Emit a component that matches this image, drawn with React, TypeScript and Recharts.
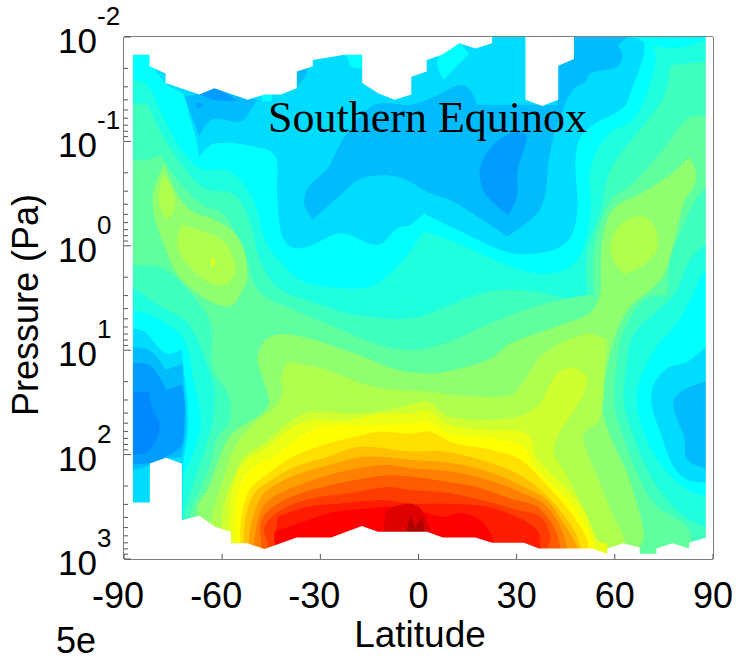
import { ScatterChart, Scatter, XAxis, YAxis } from "recharts";

type Pt = [number, number]; // [latitude in degrees, log10 of pressure in Pa]

const latTicks = [-90, -60, -30, 0, 30, 60, 90];
const decades = [-2, -1, 0, 1, 2, 3];
const minorFactors = [0.301, 0.477, 0.602, 0.699, 0.778, 0.845, 0.903, 0.954];
const pressureTicks = decades.concat(
  decades.slice(0, -1).flatMap((d) => minorFactors.map((m) => d + m))
);

// outline of the region that has data, everything outside it is blank
const outline: Pt[] = [
  [-87.3, -1.83], [-82.2, -1.83], [-82.2, -1.72], [-77.3, -1.65], [-77.3, -1.56], [-67, -1.45], [-62.4, -1.51],
  [-52.2, -1.4], [-47, -1.45], [-42, -1.45], [-37.2, -1.51], [-37.2, -1.67], [-32.3, -1.72], [-32.3, -1.78],
  [-22.6, -1.83], [-17.2, -1.83], [-17.2, -1.56], [-12.2, -1.46], [-7.3, -1.4], [-2.2, -1.45], [-2.2, -1.62],
  [2.5, -1.67], [2.5, -1.78], [7.2, -1.83], [12.5, -1.94], [17.4, -1.89], [22.5, -1.94], [22.5, -2], [32.7, -2],
  [32.7, -1.4], [37.8, -1.34], [42.7, -1.4], [42.7, -1.725], [47.5, -1.79], [47.5, -2], [87.8, -2], [87.8, 2.794],
  [82.7, 2.845], [82.7, 2.9], [77.6, 2.85], [72.7, 2.9], [72.7, 2.95], [67.6, 2.95], [67.6, 2.89], [62.6, 2.85],
  [57.7, 2.9], [57.7, 2.95], [53.1, 2.9], [36.8, 2.9], [32.2, 2.845], [22.5, 2.845], [17.4, 2.794], [7.4, 2.794],
  [2.6, 2.74], [-12.4, 2.74], [-17.3, 2.685], [-26.7, 2.794], [-37.2, 2.794], [-47.1, 2.905], [-52.2, 2.85],
  [-57.3, 2.85], [-57.3, 2.74], [-62.2, 2.69], [-67, 2.585], [-72.3, 2.63], [-72.3, 2.085], [-77.2, 2.03],
  [-82.1, 2.085], [-82.1, 2.46], [-87.3, 2.46], [-87.3, -1.83],
];
const blankMask: Pt[] = [...outline, [-90, -2], [-90, 3], [90, 3], [90, -2], [-90, -2]];

const fullField: Pt[] = [[-90, -2], [90, -2], [90, 3], [-90, 3]];

// levels below the cyan one
const skyTop: Pt[] = [
  [-82.2, -2], [-82.2, -1.76], [-80.8, -1.7], [-76.7, -1.54], [-71.6, -1.44], [-70.1, -1.25], [-68, -1.03], [-67, -0.85],
  [-62.4, -0.98], [-47.1, -0.93], [-43.5, -0.84], [-43.2, -0.52], [-42, -0.13], [-39, 0.01], [-33.9, 0.01], [-23.7, -0.12],
  [-12.4, -0.01], [-6.3, -0.17], [-2.5, -0.2], [1.6, -0.31], [10.8, -0.17], [27.1, 0.06], [37.3, 0.07], [45.5, -0.04],
  [48.5, -0.33], [48, -0.84], [50.6, -1.09], [62.8, -1.33], [64.9, -1.48], [68.9, -1.83], [68.9, -1.955], [64.9, -2],
];
const skyLeft: Pt[] = [
  [-90, 0.79], [-83.9, 0.82], [-77.2, 1.03], [-72.3, 0.99], [-71.6, 1.22], [-70.5, 1.5], [-70.5, 1.8], [-72, 2.1], [-72, 2.5], [-90, 2.5],
];
const skyRight: Pt[] = [
  [87.8, 0.98], [82.2, 1.11], [76.1, 1.17], [72, 1.32], [71.2, 1.51], [74, 1.8], [78, 2.12], [82.2, 2.24], [87.8, 2.27], [90, 2.27], [90, 0.98],
];
const cyanPatchA: Pt[] = [[5.7, -1.75], [7.7, -1.59], [15.4, -1.84], [12.8, -1.94], [7.7, -1.89]];
const cyanPatchB: Pt[] = [[-22.7, -1.83], [-17.2, -1.83], [-17.2, -1.7], [-20.6, -1.72], [-21.6, -1.8]];
const cyanPatchC: Pt[] = [[-48, -1.445], [-44.6, -1.445], [-45.1, -1.38], [-47.7, -1.39]];

const azureMain: Pt[] = [
  [-32.3, -0.25], [-34.9, -0.39], [-33.9, -0.55], [-27.8, -0.74], [-24.7, -0.93], [-21.6, -1.09], [-13.5, -1.35], [-2.5, -1.35],
  [3.6, -1.41], [12.8, -1.54], [15.9, -1.49], [17.9, -1.35], [32.7, -1.35], [42.4, -1.35], [45.5, -1.41], [41.4, -1.06], [39.9, -0.84],
  [37.3, -0.36], [27.1, -0.09], [10.8, -0.42], [3.9, -0.5], [-6.3, -0.66], [-17.6, -0.645], [-23.7, -0.49],
];
const azureCorner: Pt[] = [
  [46, -2], [63.8, -2], [60.8, -1.92], [62.3, -1.83], [60.8, -1.72], [52.6, -1.65], [51, -1.57], [47.5, -1.51], [45.5, -1.41],
  [42.4, -1.35], [42.4, -1.75], [46, -1.8],
];
const azureTopLeft: Pt[] = [
  [-71.6, -1.43], [-67, -1.05], [-63, -1.21], [-54.3, -1.19], [-51.2, -1.3], [-49.2, -1.4], [-52.2, -1.41], [-62.4, -1.53], [-67, -1.46],
];
const azureSmall: Pt[] = [[-37.2, -1.68], [-33.9, -1.71], [-34.4, -1.635], [-37.2, -1.52]];
const azureLeft: Pt[] = [
  [-90, 0.966], [-82.3, 1], [-77.2, 1.19], [-72.1, 1.13], [-71.6, 1.38], [-71, 1.7], [-72.3, 2.02], [-77, 2.04], [-82, 2.1], [-87.3, 2.15], [-90, 2.15],
];
const azureRight: Pt[] = [
  [87.8, 1.3], [81.2, 1.38], [77.9, 1.49], [79.1, 1.67], [81.2, 1.83], [82.2, 2.05], [87.8, 2.13], [90, 2.13], [90, 1.3],
];
const blueTopLeft: Pt[] = [[-67, -1.455], [-62.4, -1.51], [-55.3, -1.39], [-62, -1.395]];
const blueDot: Pt[] = [[-68, -1.37], [-66, -1.36], [-66.5, -1.33], [-67.7, -1.32]];
const blueMain: Pt[] = [
  [33.2, -1.06], [32.7, -0.97], [30.2, -0.71], [30.2, -0.49], [27.6, -0.295], [20.5, -0.49], [18.7, -0.71], [21.5, -0.92], [26, -1.045], [30.2, -1.09],
];
const blueLeft: Pt[] = [
  [-90, 1.14], [-82.3, 1.14], [-77.2, 1.38], [-72.3, 1.33], [-71.4, 1.51], [-71.6, 1.7], [-72.6, 1.92], [-77.2, 2.02], [-82, 2.08], [-90, 2.085],
];
const deepLeft: Pt[] = [[-90, 1.4], [-82.3, 1.4], [-81, 1.6], [-79, 1.7], [-82.3, 1.96], [-90, 2]];

// levels above the cyan one
const turq1: Pt[] = [
  [-90, -1.59], [-87.3, -1.59], [-82.8, -1.54], [-77.8, -1.22], [-72.6, -0.93], [-66.5, -0.74], [-57.4, -0.71], [-50.2, -0.42],
  [-47.1, -0.07], [-43.1, 0.12], [-34.9, 0.345], [-19.6, 0.41], [-12.4, 0.36], [-4.3, 0.12], [1.6, -0.14], [10.8, -0.04], [27.1, 0.185],
  [37.3, 0.265], [46.5, 0.2], [50.6, -0.01], [52.6, -0.33], [52.6, -0.74], [57.7, -1.06], [64.9, -1.19], [68.4, -1.35], [71, -1.57],
  [72.5, -1.8], [71.5, -1.92], [75, -1.9], [82, -1.91], [90, -2], [90, 0.23], [87.8, 0.23], [84, 0.45], [79.1, 0.74], [72, 1], [66.9, 1.38],
  [67.9, 1.7], [73, 2.05], [81, 2.31], [87.8, 2.4], [90, 2.4], [90, 3], [-72, 3], [-72, 2.6], [-71.6, 2.21], [-69, 2], [-66.5, 1.7],
  [-69, 1.25], [-71.6, 0.9], [-77, 0.75], [-82.8, 0.65], [-90, 0.62],
];
const turq2: Pt[] = [
  [-90, -1.35], [-82.8, -1.36], [-77.8, -1.03], [-72.1, -0.77], [-65.5, -0.55], [-56.3, -0.49], [-51.2, -0.2], [-48.7, 0.12], [-43, 0.4],
  [-29.8, 0.567], [-19.6, 0.66], [-2.2, 0.695], [9.7, 0.567], [17.9, 0.47], [26, 0.42], [36, 0.44], [46, 0.5], [51.6, 0.47], [51.6, 0.06],
  [55.6, -0.33], [57.7, -0.645], [60.8, -0.84], [68.9, -1.16], [75, -1.43], [77, -1.73], [87.8, -1.76], [90, -1.76], [90, -0.135],
  [83.2, 0.12], [78, 0.47], [65.9, 0.84], [63.3, 1.22], [62.8, 1.51], [65.4, 1.8], [71, 2.21], [77, 2.47], [83, 2.63], [90, 2.72], [90, 3],
  [-72, 3], [-72, 2.63], [-71, 2.5], [-68, 2.21], [-65.5, 1.96], [-63, 1.7], [-62.4, 1.38], [-65.5, 1.06], [-70.6, 0.74], [-78.8, 0.58],
  [-87.3, 0.41], [-90, 0.41],
];
const mint: Pt[] = [
  [-90, -0.85], [-83.9, -0.82], [-78.8, -0.87], [-73.2, -0.61], [-66, -0.39], [-59.4, -0.295], [-52.8, 0.12], [-48.7, 0.44], [-38, 0.615],
  [-25.7, 0.775], [-13.5, 0.935], [-2.2, 1], [9.7, 0.918], [22, 0.743], [35.3, 0.583], [48.5, 0.487], [53.8, 0.47], [53.4, 0.12], [55.7, -0.23],
  [59.3, -0.45], [64.9, -0.58], [75, -0.93], [82.2, -1.22], [87.8, -1.24], [90, -1.24], [90, -0.68], [84.2, -0.42], [80.1, -0.135], [77, 0.12],
  [76, 0.47], [69, 0.52], [62.8, 0.81], [60.8, 1.06], [59.8, 1.51], [62.3, 1.8], [66.9, 2.18], [72, 2.47], [82.7, 2.72], [82.7, 3], [-69.5, 3],
  [-69.5, 2.55], [-67.5, 2.4], [-63.5, 2.08], [-61.4, 1.83], [-57.9, 1.7], [-57.9, 1.445], [-63, 1.16], [-63.5, 0.74], [-69.6, 0.455],
  [-77.8, 0.22], [-87.3, 0.185], [-90, 0.185],
];
const greenBlobLeft: Pt[] = [
  [-77.7, -0.78], [-74.2, -0.52], [-69.6, -0.34], [-62.4, -0.25], [-56.3, -0.13], [-53.1, 0.06], [-52.4, 0.31], [-54.3, 0.455], [-57.3, 0.576],
  [-62.4, 0.55], [-69, 0.423], [-74.2, 0.25], [-77.7, 0], [-80.8, -0.29], [-81, -0.52],
];
const green: Pt[] = [
  [-49.2, 1.08], [-46.1, 0.886], [-38, 0.854], [-19.6, 1.03], [-6.3, 1.19], [3.9, 1.22], [10.8, 1.19], [22, 1.08], [28.1, 0.934], [43.4, 0.758],
  [51.6, 0.66], [54.6, 0.55], [55.7, 0.42], [55.7, 0.12], [56.7, -0.135], [59.7, -0.36], [68.9, -0.52], [78.1, -0.71], [82.7, -0.85], [84.8, -0.71],
  [84.3, -0.58], [81.2, -0.42], [78.1, -0.04], [75, 0.28], [71, 0.42], [64.8, 0.58], [59.7, 0.9], [56.2, 1.51], [58.7, 1.83], [63.8, 2.18],
  [67.9, 2.6], [68.9, 2.79], [67.6, 2.9], [67.6, 3], [-67.5, 3], [-67.5, 2.5], [-64, 2.31], [-61, 2.05], [-57.3, 1.81], [-46.1, 1.54], [-47.1, 1.32],
];
const limeStreak: Pt[] = [[-77.7, -0.68], [-74.7, -0.49], [-74.7, -0.33], [-77.2, -0.25], [-79.3, -0.42], [-79, -0.58]];
const limeBlobLeft: Pt[] = [
  [-72.6, -0.2], [-66.5, -0.15], [-59.4, -0.04], [-56.3, 0.15], [-56.3, 0.28], [-59.4, 0.38], [-64.5, 0.345], [-70.6, 0.185], [-73.7, -0.01],
];
const limeBlobRight: Pt[] = [
  [58.7, -0.038], [62.8, -0.23], [68.9, -0.28], [72.5, -0.166], [73, 0.026], [68.9, 0.185], [62.8, 0.275], [59.2, 0.12],
];
const yellowSpot: Pt[] = [[-62.8, 0.1], [-62.2, 0.155], [-62.8, 0.21], [-63.4, 0.155]];
const lime: Pt[] = [
  [-42, 1.25], [-40, 1.11], [-29.8, 1.17], [-13.5, 1.35], [3.9, 1.4], [10.8, 1.43], [28.1, 1.43], [32.2, 1.29], [38.3, 1.03], [51.6, 0.84], [57.7, 0.9],
  [57, 1.2], [55.2, 1.67], [50.6, 1.8], [51, 1.925], [54.6, 2.21], [59.7, 2.595], [62.8, 2.8], [62.8, 3], [-63.5, 3], [-63.5, 2.66], [-62.2, 2.47],
  [-59.4, 2.21], [-56.3, 1.93], [-50.2, 1.7], [-43, 1.51], [-41.5, 1.38],
];
const lime2: Pt[] = [
  [-33.1, 1.59], [-21.6, 1.605], [-12.4, 1.59], [-2.4, 1.52], [2.6, 1.49], [9.7, 1.64], [28.1, 1.65], [36.3, 1.54], [40.4, 1.32], [42.4, 1.22],
  [47.5, 1.17], [51.4, 1.25], [50.6, 1.41], [42.4, 1.83], [41.4, 1.99], [45.5, 2.21], [50.6, 2.53], [54.6, 2.82], [56, 3], [-59.9, 3], [-59.9, 2.53],
  [-56.8, 2.24], [-53.2, 2.02], [-47.1, 1.89], [-40, 1.7],
];
const lvl7: Pt[] = [
  [-57.8, 2.5], [-56.3, 2.245], [-52.7, 2.05], [-46.1, 1.925], [-40, 1.765], [-32.8, 1.67], [-21.6, 1.67], [-12.4, 1.61], [-2.4, 1.605], [2.6, 1.58],
  [9.7, 1.72], [21, 1.765], [33, 1.8], [35.8, 2.02], [40.4, 2.18], [46.5, 2.37], [51, 2.56], [54.6, 2.82], [57.7, 2.85], [57.7, 3], [-57.8, 3],
];
const lvl8: Pt[] = [
  [-55.8, 2.5], [-53.8, 2.245], [-50.2, 2.12], [-43, 1.99], [-36, 1.83], [-28.8, 1.73], [-17.5, 1.72], [-12.4, 1.72], [-2.4, 1.7], [2.6, 1.685],
  [9.7, 1.8], [23, 1.845], [32.2, 1.925], [35.3, 2.12], [41.4, 2.31], [47.5, 2.5], [51.6, 2.72], [53.1, 2.82], [55, 3], [-55.8, 3],
];
const lvl9: Pt[] = [
  [-54.3, 2.63], [-51.7, 2.34], [-47.1, 2.21], [-40, 2.05], [-30.8, 1.925], [-19.6, 1.83], [-12.4, 1.78], [-2.4, 1.8], [3.6, 1.78], [10.8, 1.89],
  [23, 1.96], [31.2, 2.05], [38.3, 2.26], [44.4, 2.47], [49.5, 2.69], [51.6, 2.82], [52, 3], [-54.3, 3],
];
const lvl10: Pt[] = [
  [-53.2, 2.66], [-50.2, 2.37], [-45.1, 2.245], [-38, 2.12], [-27.7, 2.02], [-17.5, 1.925], [-2.4, 1.97], [7.7, 1.97], [17.9, 2.04], [28.1, 2.15],
  [36.3, 2.31], [42.4, 2.5], [47.5, 2.72], [49.5, 2.88], [50, 3], [-53.2, 3],
];
const lvl11: Pt[] = [
  [-51.7, 2.755], [-49.2, 2.47], [-46.1, 2.34], [-38, 2.2], [-25.7, 2.085], [-16.5, 2.02], [-2.4, 2.05], [10.8, 2.085], [23, 2.18], [32.2, 2.31],
  [39.3, 2.435], [44.4, 2.66], [48.5, 2.88], [48.5, 3], [-51.7, 3],
];
const lvl12: Pt[] = [
  [-50.2, 2.82], [-48.1, 2.53], [-44.1, 2.4], [-33.9, 2.26], [-21.6, 2.15], [-9.4, 2.1], [-2.4, 2.13], [10.8, 2.165], [23, 2.26], [31.2, 2.36],
  [38.3, 2.47], [42.9, 2.66], [45.5, 2.9], [45.5, 3], [-50.2, 3],
];
const lvl13: Pt[] = [
  [-48.1, 2.85], [-48.1, 2.63], [-43, 2.47], [-32.8, 2.34], [-19.6, 2.245], [-9.4, 2.2], [-2.4, 2.21], [5.7, 2.245], [17.9, 2.31], [28.1, 2.42],
  [36.3, 2.5], [41.4, 2.69], [43.4, 2.9], [43.4, 3], [-48.1, 3],
];
const lvl14: Pt[] = [
  [-46.1, 2.85], [-47.1, 2.69], [-42, 2.53], [-32.8, 2.42], [-21.6, 2.37], [-9.4, 2.31], [-2.4, 2.34], [9.7, 2.37], [21, 2.45], [30.2, 2.53],
  [37.3, 2.595], [40.4, 2.79], [39.3, 2.9], [39.3, 3], [-46.1, 3],
];
const lvl15: Pt[] = [
  [-43.6, 2.755], [-43, 2.595], [-33.9, 2.5], [-24.7, 2.47], [-11.4, 2.435], [-2.4, 2.47], [7.7, 2.47], [21, 2.5], [32.2, 2.63], [36.8, 2.755],
  [36.8, 3], [-43.6, 3],
];
const lvl16: Pt[] = [
  [-44, 2.74], [-30.8, 2.595], [-25.7, 2.55], [-10.4, 2.5], [-2.4, 2.5], [-0.5, 2.53], [7.7, 2.595], [12.8, 2.56], [18.9, 2.63], [22.5, 2.79],
  [22.5, 3], [-44, 3],
];
const lvl17: Pt[] = [[-10.4, 2.74], [-10.4, 2.63], [-9.4, 2.53], [-2.4, 2.47], [1, 2.53], [3, 2.66], [4, 2.8], [-10, 2.8]];
const lvl18: Pt[] = [[-3.8, 2.74], [-2.4, 2.58], [-1, 2.7], [1, 2.6], [2, 2.74], [2, 2.8], [-3.8, 2.8]];

// painter's order, lowest first
const layers: [Pt[], string][] = [
  [fullField, "#00ffff"],
  [skyTop, "#00dcff"], [skyLeft, "#00dcff"], [skyRight, "#00dcff"],
  [cyanPatchA, "#00ffff"], [cyanPatchB, "#00ffff"], [cyanPatchC, "#00ffff"],
  [azureMain, "#00bcff"], [azureCorner, "#00bcff"], [azureTopLeft, "#00bcff"], [azureSmall, "#00bcff"], [azureLeft, "#00bcff"], [azureRight, "#00bcff"],
  [blueTopLeft, "#009cff"], [blueDot, "#009cff"], [blueMain, "#009cff"], [blueLeft, "#009cff"], [deepLeft, "#0088ff"],
  [turq1, "#1fffdf"], [turq2, "#3fffbf"], [mint, "#5fff9f"],
  [green, "#8fff6f"], [greenBlobLeft, "#8fff6f"],
  [limeStreak, "#afff4f"], [limeBlobLeft, "#afff4f"], [limeBlobRight, "#afff4f"], [yellowSpot, "#dfff1f"],
  [lime, "#afff4f"], [lime2, "#cfff2f"],
  [lvl7, "#ebff14"], [lvl8, "#ffff00"], [lvl9, "#ffe000"], [lvl10, "#ffc000"], [lvl11, "#ffa000"], [lvl12, "#ff8000"],
  [lvl13, "#ff5c00"], [lvl14, "#ff3c00"], [lvl15, "#ff1c00"], [lvl16, "#ff0000"], [lvl17, "#df0000"], [lvl18, "#b00000"],
  [blankMask, "#ffffff"],
];

const LABEL_FONT = "'Liberation Sans', Arial, sans-serif";
const FRAME = "#7f7f7f";

const NoDot = () => <g />;

// closed curve through the contour vertices: round where the contour bends gently, keep real corners
const contourCurve = (ctx: any) => {
  let pts: number[][] = [];
  return {
    areaStart() {},
    areaEnd() {},
    lineStart() {
      pts = [];
    },
    point(x: number, y: number) {
      pts.push([x, y]);
    },
    lineEnd() {
      const n = pts.length;
      const dirs = pts.map((p, i) => {
        const a = pts[(i + n - 1) % n];
        const b = pts[(i + 1) % n];
        const ax = p[0] - a[0], ay = p[1] - a[1], bx = b[0] - p[0], by = b[1] - p[1];
        const la = Math.hypot(ax, ay) || 1, lb = Math.hypot(bx, by) || 1;
        if ((ax * bx + ay * by) / (la * lb) < 0.45) return [0, 0];
        const tx = b[0] - a[0], ty = b[1] - a[1];
        const lt = Math.hypot(tx, ty) || 1;
        return [tx / lt, ty / lt];
      });
      ctx.moveTo(pts[0][0], pts[0][1]);
      pts.forEach((p, i) => {
        const j = (i + 1) % n;
        const q = pts[j];
        const h = Math.hypot(q[0] - p[0], q[1] - p[1]) * 0.33;
        ctx.bezierCurveTo(p[0] + dirs[i][0] * h, p[1] + dirs[i][1] * h, q[0] - dirs[j][0] * h, q[1] - dirs[j][1] * h, q[0], q[1]);
      });
      ctx.closePath();
    },
  };
};

const PressureTick = ({ x, y, payload, side }: any) => {
  const isDecade = Number.isInteger(payload.value);
  const len = isDecade ? 7 : 4;
  const dir = side === "left" ? 1 : -1;
  return (
    <g>
      <line x1={x} x2={x + dir * len} y1={y} y2={y} stroke="#555" strokeWidth={1} />
      {side === "left" && isDecade && (
        <text fontFamily={LABEL_FONT} fill="#000" y={y + 16}>
          <tspan x={58} fontSize={35}>10</tspan>
          <tspan x={97} y={y - 12} fontSize={26}>{payload.value}</tspan>
        </text>
      )}
    </g>
  );
};

const LatTick = ({ x, y, payload, side }: any) => {
  const v = payload.value;
  const dir = side === "bottom" ? -1 : 1;
  return (
    <g>
      <line x1={x} x2={x} y1={y} y2={y + dir * 5} stroke="#555" strokeWidth={1} />
      {side === "bottom" && (
        <text
          x={v === 0 ? x : x + 20}
          y={608}
          textAnchor={v === 0 ? "middle" : "end"}
          fontFamily={LABEL_FONT}
          fontSize={36}
          fill="#000"
        >
          {v}
        </text>
      )}
    </g>
  );
};

export default function App() {
  return (
    <div style={{ position: "absolute", left: 0, top: 0, width: 736, height: 660 }}>
      <ScatterChart width={736} height={660} margin={{ top: 27, right: 13, bottom: 71, left: 64 }}>
        {layers.map(([pts, color], i) => (
          <Scatter
            key={i}
            data={pts.map(([lat, logP]) => ({ lat, logP }))}
            dataKey="logP"
            line={{ fill: color, stroke: "none" }}
            lineJointType={pts === blankMask || pts === fullField ? "linear" : (contourCurve as any)}
            shape={NoDot}
            isAnimationActive={false}
          />
        ))}
        <XAxis
          type="number"
          dataKey="lat"
          domain={[-90, 90]}
          allowDataOverflow
          ticks={latTicks}
          interval={0}
          height={30}
          tickSize={0}
          tickMargin={0}
          tickLine={false}
          stroke={FRAME}
          strokeWidth={2}
          tick={(p: any) => <LatTick {...p} side="bottom" />}
        />
        <XAxis
          xAxisId="top"
          orientation="top"
          type="number"
          domain={[-90, 90]}
          ticks={latTicks}
          interval={0}
          height={10}
          tickSize={0}
          tickMargin={0}
          tickLine={false}
          stroke={FRAME}
          strokeWidth={2}
          tick={(p: any) => <LatTick {...p} side="top" />}
        />
        <YAxis
          type="number"
          dataKey="logP"
          reversed
          domain={[-2, 3]}
          allowDataOverflow
          ticks={pressureTicks}
          interval={0}
          width={60}
          tickSize={0}
          tickMargin={0}
          tickLine={false}
          stroke={FRAME}
          strokeWidth={2}
          tick={(p: any) => <PressureTick {...p} side="left" />}
        />
        <YAxis
          yAxisId="right"
          orientation="right"
          type="number"
          reversed
          domain={[-2, 3]}
          ticks={pressureTicks}
          interval={0}
          width={10}
          tickSize={0}
          tickMargin={0}
          tickLine={false}
          stroke={FRAME}
          strokeWidth={2}
          tick={(p: any) => <PressureTick {...p} side="right" />}
        />
        <text x={420} y={647} textAnchor="middle" fontFamily={LABEL_FONT} fontSize={37} fill="#000">
          Latitude
        </text>
        <text
          x={38}
          y={305}
          textAnchor="middle"
          transform="rotate(-90 38 305)"
          fontFamily={LABEL_FONT}
          fontSize={36}
          fill="#000"
        >
          Pressure (Pa)
        </text>
        <text x={56} y={653} fontFamily={LABEL_FONT} fontSize={36} fill="#000">
          5e
        </text>
      </ScatterChart>
      {/* svg children sit under the series, so the title goes on top of the chart */}
      <div
        style={{
          position: "absolute",
          left: 268,
          top: 92,
          fontFamily: "'Liberation Serif', 'Times New Roman', serif",
          fontSize: 44,
          color: "#000",
          whiteSpace: "nowrap",
          pointerEvents: "none",
        }}
      >
        Southern Equinox
      </div>
    </div>
  );
}
